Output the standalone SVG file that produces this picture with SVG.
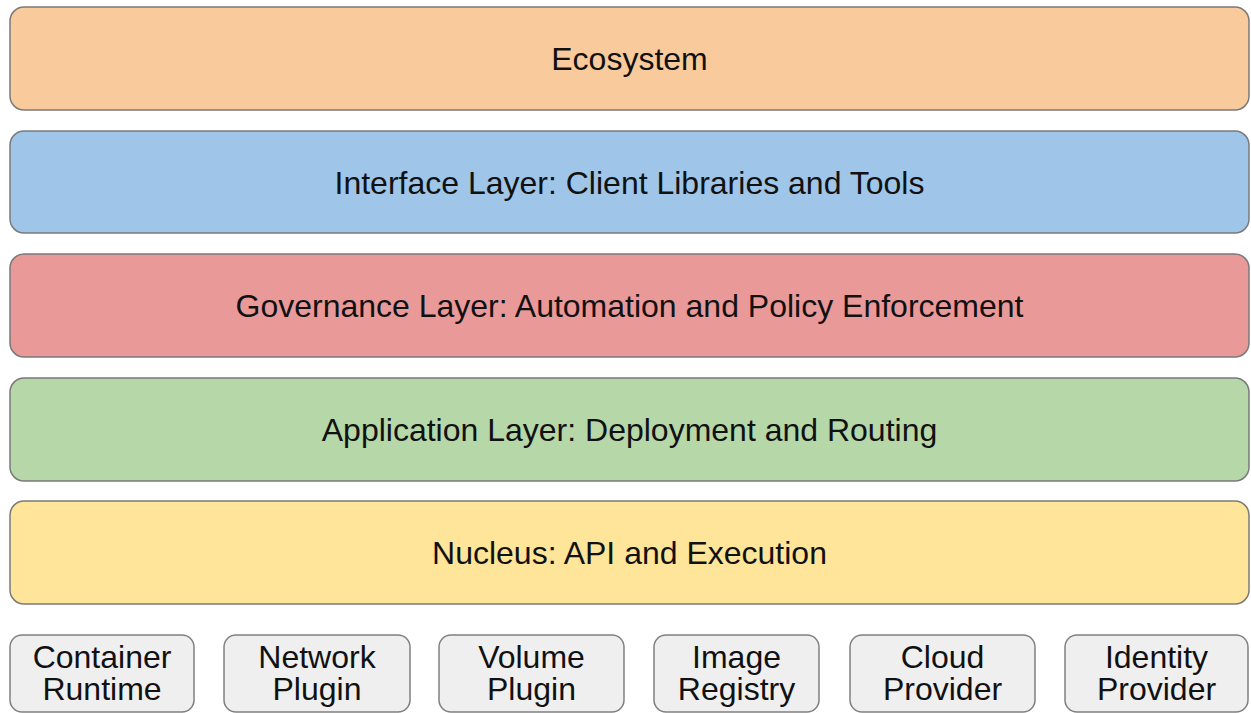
<svg xmlns="http://www.w3.org/2000/svg" width="1251" height="713" viewBox="0 0 1251 713">
<style>
.layer{stroke:#7a7a7a;stroke-width:1.5}
.comp{fill:#efefef;stroke:#808080;stroke-width:1.5}
text{font-family:"Liberation Sans",Arial,sans-serif;font-size:32px;fill:#111;text-anchor:middle}
</style>
<rect width="1251" height="713" fill="#ffffff"/>
<g id="ecosystem"><rect class="layer" x="10" y="7" width="1239" height="103" rx="14" fill="#f9cb9c"/><text x="629.5" y="70">Ecosystem</text></g>
<g id="interface"><rect class="layer" x="10" y="131" width="1239" height="102" rx="14" fill="#9fc5e8"/><text x="629.5" y="194">Interface Layer: Client Libraries and Tools</text></g>
<g id="governance"><rect class="layer" x="10" y="254" width="1239" height="103" rx="14" fill="#ea9999"/><text x="629.5" y="317">Governance Layer: Automation and Policy Enforcement</text></g>
<g id="application"><rect class="layer" x="10" y="378" width="1239" height="103" rx="14" fill="#b6d7a8"/><text x="629.5" y="441">Application Layer: Deployment and Routing</text></g>
<g id="nucleus"><rect class="layer" x="10" y="501" width="1239" height="103" rx="14" fill="#ffe599"/><text x="629.5" y="564">Nucleus: API and Execution</text></g>
<g id="container-runtime"><rect class="comp" x="10" y="635" width="184" height="77" rx="12"/><text x="102" y="668">Container</text><text x="102" y="700">Runtime</text></g>
<g id="network-plugin"><rect class="comp" x="224" y="635" width="186" height="77" rx="12"/><text x="317" y="668">Network</text><text x="317" y="700">Plugin</text></g>
<g id="volume-plugin"><rect class="comp" x="439" y="635" width="185" height="77" rx="12"/><text x="531.5" y="668">Volume</text><text x="531.5" y="700">Plugin</text></g>
<g id="image-registry"><rect class="comp" x="654" y="635" width="165" height="77" rx="12"/><text x="736.5" y="668">Image</text><text x="736.5" y="700">Registry</text></g>
<g id="cloud-provider"><rect class="comp" x="850" y="635" width="185" height="77" rx="12"/><text x="942.5" y="668">Cloud</text><text x="942.5" y="700">Provider</text></g>
<g id="identity-provider"><rect class="comp" x="1065" y="635" width="183" height="77" rx="12"/><text x="1156.5" y="668">Identity</text><text x="1156.5" y="700">Provider</text></g>
<g id="connectors"></g>
</svg>
